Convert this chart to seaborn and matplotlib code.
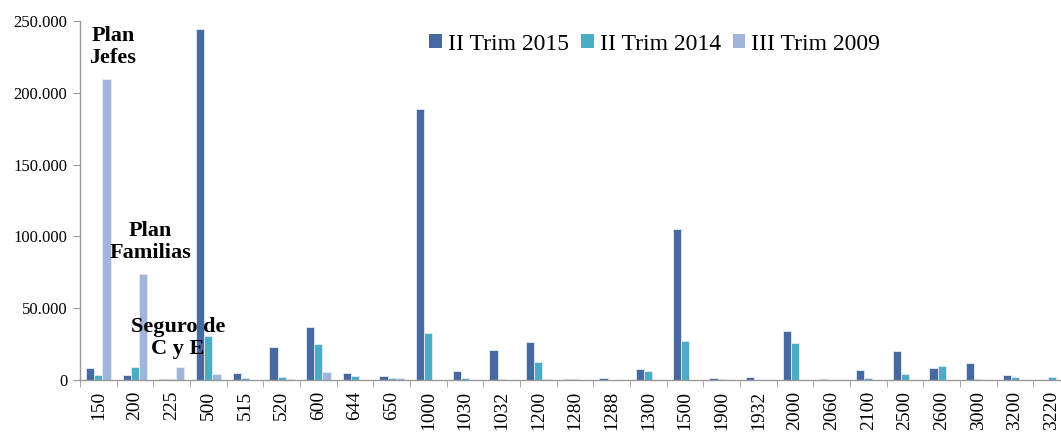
import numpy as np
import pandas as pd
import matplotlib
matplotlib.use("Agg")
import matplotlib.pyplot as plt
from matplotlib.patches import Patch
from matplotlib.ticker import FuncFormatter, FixedLocator
import seaborn as sns

# =========================================================
# DATA
# =========================================================

categorias = ["150", "200", "225", "500", "515", "520", "600", "644", "650",
              "1000", "1030", "1032", "1200", "1280", "1288", "1300", "1500",
              "1900", "1932", "2000", "2060", "2100", "2500", "2600", "3000",
              "3200", "3220"]

trim_2015 = [8100, 3500, 700, 244500, 4700, 22800, 37200, 4800, 3000,
             188500, 6000, 20700, 26200, 900, 1600, 7400, 105400,
             1600, 2300, 33900, 900, 6700, 20200, 8100, 12100,
             3700, 0]

trim_2014 = [3500, 9300, 700, 30700, 1600, 2300, 24900, 2900, 1600,
             32500, 1600, 900, 12800, 900, 0, 6000, 26900,
             400, 0, 25500, 0, 1600, 4200, 9500, 900,
             2300, 2300]

trim_2009 = [209800, 73700, 8800, 4200, 0, 500, 5300, 0, 1600,
             0, 0, 0, 400, 0, 0, 0, 0,
             0, 0, 0, 0, 0, 0, 0, 0,
             0, 0]

series = ["II Trim 2015", "II Trim 2014", "III Trim 2009"]
colores = ["#4569a0", "#4bacc6", "#a0b5d9"]

df = pd.DataFrame({
    "Categoria": categorias * 3,
    "Serie": [series[0]] * len(categorias) + [series[1]] * len(categorias)
             + [series[2]] * len(categorias),
    "Valor": trim_2015 + trim_2014 + trim_2009,
})

# =========================================================
# PLOT
# =========================================================

sns.set_style("white")
plt.rcParams["font.family"] = ["Liberation Serif", "DejaVu Serif"]
plt.rcParams["text.color"] = "black"
plt.rcParams["xtick.color"] = "black"
plt.rcParams["ytick.color"] = "black"

fig = plt.figure(figsize=(10.61, 4.32), dpi=100)
ax = fig.add_axes([80 / 1061, 1 - 380 / 432, 990 / 1061, 359 / 432])

sns.barplot(
    data=df, x="Categoria", y="Valor", hue="Serie",
    order=categorias, hue_order=series, palette=colores,
    width=0.667, saturation=1, edgecolor="#e4eaf2", linewidth=0.6,
    legend=False, ax=ax
)

ax.set_xlim(-0.5, len(categorias) - 0.5)
ax.set_ylim(0, 250000)
ax.set_yticks(np.arange(0, 250001, 50000))
ax.yaxis.set_major_formatter(FuncFormatter(lambda v, p: f"{int(v):,}".replace(",", ".")))
ax.set_xlabel("")
ax.set_ylabel("")

ax.set_xticks(range(len(categorias)))
ax.set_xticklabels(categorias, rotation=90, fontsize=14)
ax.xaxis.set_minor_locator(FixedLocator(np.arange(-0.5, len(categorias), 1)))
ax.tick_params(axis="x", which="major", length=0, pad=8, labelcolor="black")
ax.tick_params(axis="x", which="minor", length=5, color="#999999", direction="out", bottom=True)
ax.tick_params(axis="y", labelsize=12, length=5, color="#999999", labelcolor="black",
               direction="out", left=True, pad=4)

for s in ["top", "right"]:
    ax.spines[s].set_visible(False)
for s in ["left", "bottom"]:
    ax.spines[s].set_color("#999999")
    ax.spines[s].set_linewidth(1)

# anotaciones
ax.text(0.4, 231800, "Plan\nJefes", ha="center", va="center", color="black",
        fontsize=16, fontweight="bold", linespacing=1.15)
ax.text(1.41, 96000, "Plan\nFamilias", ha="center", va="center", color="black",
        fontsize=16, fontweight="bold", linespacing=1.15)
ax.text(2.17, 29200, "Seguro de\nC y E", ha="center", va="center", color="black",
        fontsize=16, fontweight="bold", linespacing=1.15)

handles = [Patch(facecolor=c, edgecolor="none") for c in colores]
fig.legend(handles, series, loc="center", bbox_to_anchor=(0.617, 0.898),
           ncol=3, frameon=False, fontsize=17, handlelength=0.55,
           handleheight=0.55, handletextpad=0.25, columnspacing=0.5,
           labelcolor="black")

fig.savefig("out.png", dpi=100)
